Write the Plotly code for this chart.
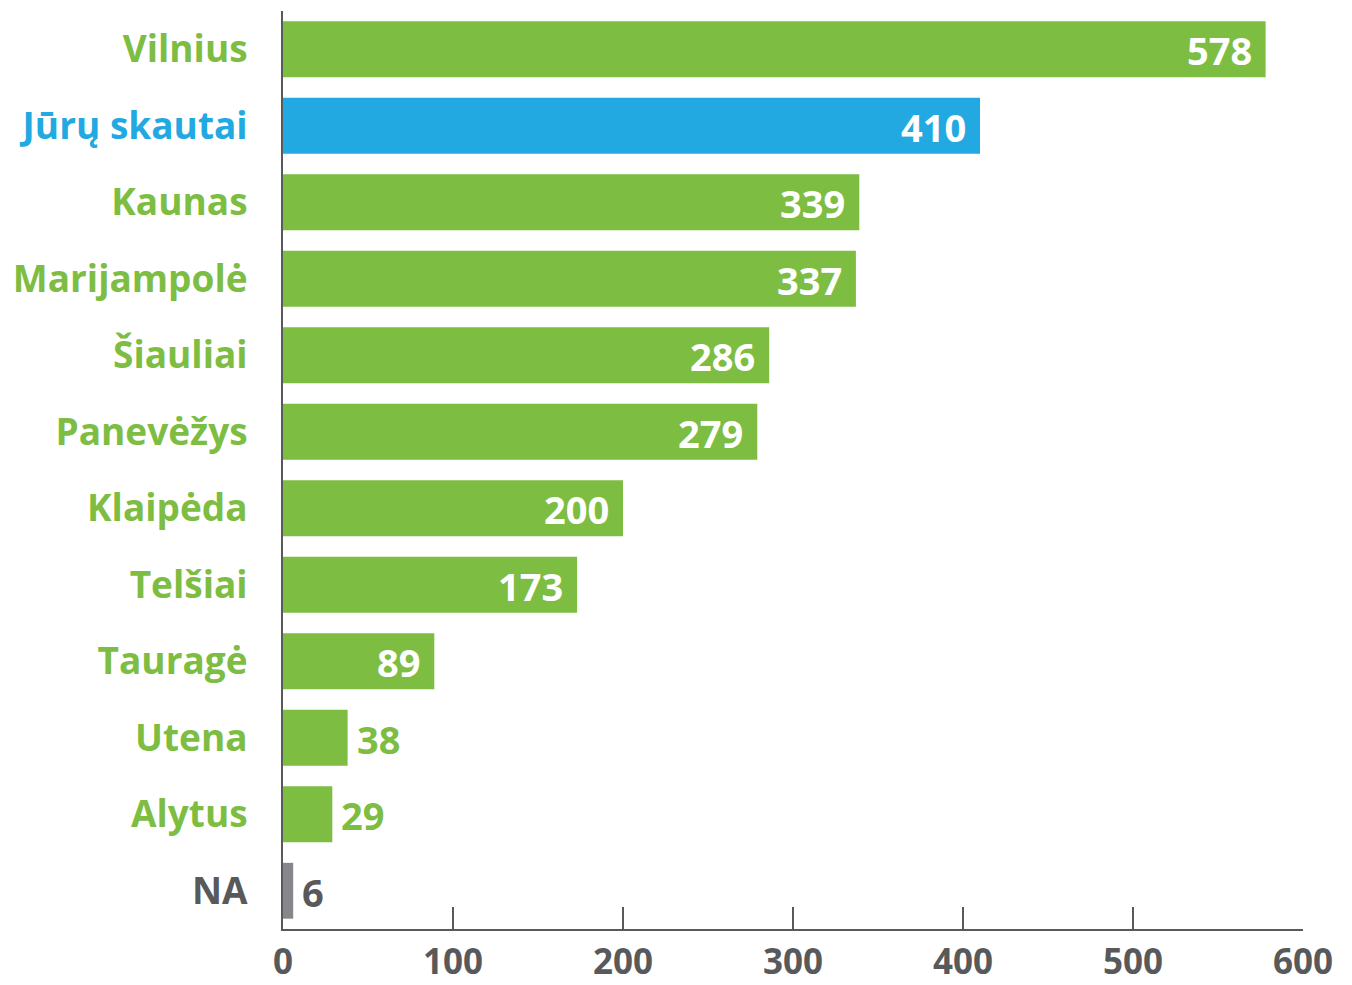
import plotly.graph_objects as go

# data
regions = ["Vilnius", "Jūrų skautai", "Kaunas", "Marijampolė", "Šiauliai", "Panevėžys",
           "Klaipėda", "Telšiai", "Tauragė", "Utena", "Alytus", "NA"]
counts = [578, 410, 339, 337, 286, 279, 200, 173, 89, 38, 29, 6]

GREEN = "#7DBD42"
BLUE = "#23A9E1"
GRAY_BAR = "#87878B"
DARK = "#58595B"
FONT = "Open Sans"


def region_color(name):
    if name == "Jūrų skautai":
        return BLUE
    if name == "NA":
        return DARK
    return GREEN


bar_colors = [BLUE if r == "Jūrų skautai" else GRAY_BAR if r == "NA" else GREEN for r in regions]

fig = go.Figure(go.Bar(
    x=counts,
    y=regions,
    orientation="h",
    marker=dict(color=bar_colors, line=dict(width=0)),
    hoverinfo="x+y",
))

# value labels: inside (white) for long bars, just outside for short ones
for r, v in zip(regions, counts):
    inside = v > 60
    fig.add_annotation(
        x=v, y=r,
        text=str(v),
        showarrow=False,
        xanchor="right" if inside else "left",
        xshift=-12 if inside else 7,
        yshift=-1,
        font=dict(family=FONT, size=38, weight="bold",
                  color="white" if inside else region_color(r)),
    )

# page body adds an 8px offset, so the figure is 8px smaller than the window
fig.update_layout(
    width=1344, height=977,
    margin=dict(l=275, r=49, t=3, b=56),
    plot_bgcolor="white",
    paper_bgcolor="white",
    bargap=0.27,
    showlegend=False,
    xaxis=dict(
        range=[0, 600],
        tickvals=[0, 100, 200, 300, 400, 500, 600],
        ticks="inside", ticklen=22, tickwidth=2, tickcolor=DARK,
        showline=True, linecolor=DARK, linewidth=2,
        showgrid=False, zeroline=False, automargin=False,
        tickfont=dict(family=FONT, size=35, weight="bold", color=DARK),
        ticklabelstandoff=1,
    ),
    yaxis=dict(
        autorange="reversed",
        tickvals=regions,
        ticktext=[f'<span style="color:{region_color(r)}">{r}</span>' for r in regions],
        showline=True, linecolor=DARK, linewidth=2,
        showgrid=False, zeroline=False, ticks="", automargin=False,
        tickfont=dict(family=FONT, size=37, weight="bold", color=GREEN),
        ticklabelstandoff=26,
    ),
)

fig.write_html("out.html")
